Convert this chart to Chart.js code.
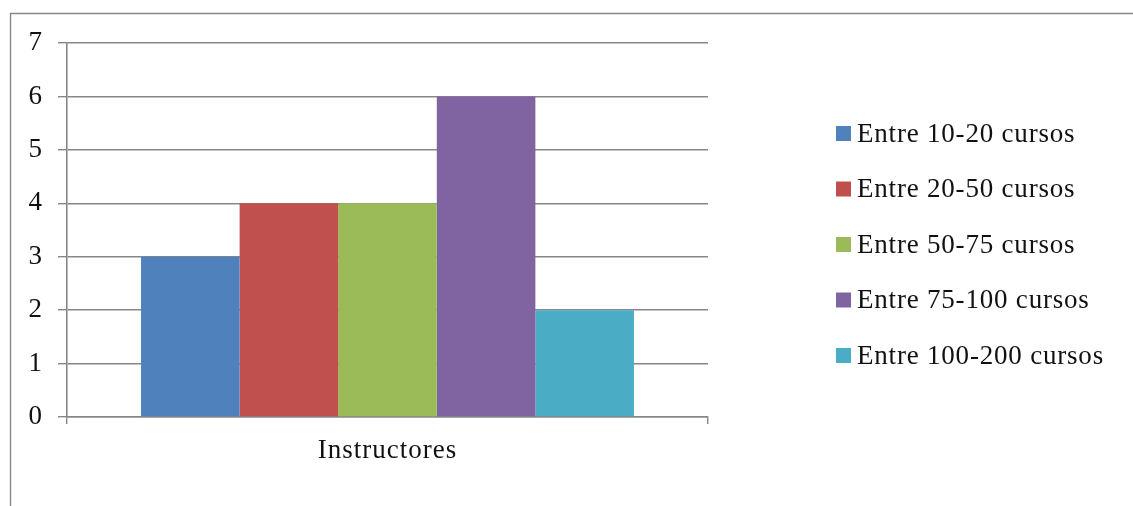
<!DOCTYPE html>
<html>
<head>
<meta charset="utf-8">
<script src="https://cdn.jsdelivr.net/npm/chart.js@4/dist/chart.umd.min.js"></script>
<style>
  html, body { margin: 0; padding: 0; background: #fff; }
  #wrap { position: relative; width: 1133px; height: 506px; }
</style>
</head>
<body>
<div id="wrap"><canvas id="c" width="1133" height="506"></canvas></div>
<script>
const categories = ["Instructores"];
const seriesNames = ["Entre 10-20 cursos", "Entre 20-50 cursos", "Entre 50-75 cursos", "Entre 75-100 cursos", "Entre 100-200 cursos"];
const seriesValues = [[3], [4], [4], [6], [2]];
const seriesColors = ["#4F81BD", "#C0504D", "#9BBB59", "#8064A2", "#4BACC6"];
const yTicks = [0, 1, 2, 3, 4, 5, 6, 7];

const FONT = "'Liberation Serif', 'DejaVu Serif', serif";
const GRID = "#878787";

const framePlugin = {
  id: 'frame',
  beforeDraw(chart) {
    const ctx = chart.ctx;
    ctx.save();
    ctx.fillStyle = '#fff';
    ctx.fillRect(0, 0, chart.width, chart.height);
    ctx.strokeStyle = GRID;
    ctx.lineWidth = 1.4;
    ctx.beginPath();
    ctx.moveTo(10.5, chart.height + 2);
    ctx.lineTo(10.5, 13.5);
    ctx.lineTo(chart.width + 2, 13.5);
    ctx.stroke();
    ctx.restore();
    ctx.letterSpacing = '1px';
  }
};

const legendPlugin = {
  id: 'customLegend',
  afterDraw(chart) {
    const ctx = chart.ctx;
    ctx.save();
    ctx.font = "27px " + FONT;
    ctx.letterSpacing = '0.8px';
    ctx.textBaseline = 'middle';
    ctx.textAlign = 'left';
    chart.data.datasets.forEach((ds, i) => {
      const cy = 133.5 + i * 55.5;
      ctx.fillStyle = ds.backgroundColor;
      ctx.fillRect(836, cy - 7.5, 15, 15);
      ctx.fillStyle = '#111';
      ctx.fillText(ds.label, 857, cy + 1);
    });
    ctx.restore();
  }
};

new Chart(document.getElementById('c'), {
  type: 'bar',
  data: {
    labels: categories,
    datasets: seriesNames.map((n, i) => ({
      label: n,
      data: seriesValues[i],
      backgroundColor: seriesColors[i],
      borderWidth: 0,
      categoryPercentage: 0.769,
      barPercentage: 1.0
    }))
  },
  options: {
    responsive: false,
    animation: false,
    devicePixelRatio: 1,
    layout: { padding: { left: 0, right: 425, top: 43, bottom: 40 } },
    plugins: {
      legend: { display: false },
      tooltip: { enabled: false }
    },
    scales: {
      x: {
        offset: true,
        grid: {
          display: true,
          offset: true,
          drawOnChartArea: false,
          drawTicks: true,
          tickLength: 7,
          color: GRID,
          lineWidth: 1.4
        },
        border: { display: true, color: GRID, width: 1.6 },
        ticks: {
          color: '#111',
          font: { family: FONT, size: 27 },
          padding: 11
        },
        afterFit(scale) { scale.height = 49; }
      },
      y: {
        min: 0,
        max: 7,
        afterBuildTicks(scale) { scale.ticks = yTicks.map(v => ({ value: v })); },
        grid: {
          color: GRID,
          lineWidth: 1.4,
          drawTicks: true,
          tickLength: 9
        },
        border: { display: true, color: GRID, width: 1.6 },
        ticks: {
          color: '#111',
          font: { family: FONT, size: 27 },
          padding: 15,
          stepSize: 1
        },
        afterFit(scale) { scale.width = 67; }
      }
    }
  },
  plugins: [framePlugin, legendPlugin]
});
</script>
</body>
</html>
